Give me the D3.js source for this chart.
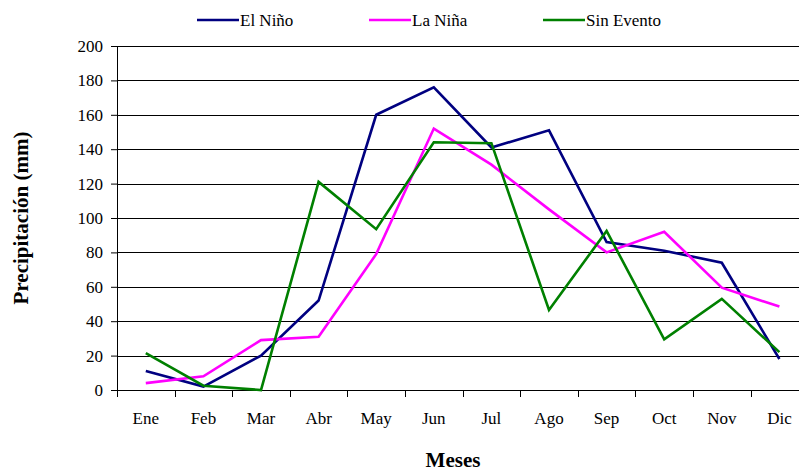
<!DOCTYPE html>
<html>
<head>
<meta charset="utf-8">
<script src="https://cdn.jsdelivr.net/npm/d3@7"></script>
<style>
body { margin: 0; background: #fff; }
</style>
</head>
<body>
<div id="chart"></div>
<script>
var months = ["Ene", "Feb", "Mar", "Abr", "May", "Jun", "Jul", "Ago", "Sep", "Oct", "Nov", "Dic"];
var seriesNames = ["El Niño", "La Niña", "Sin Evento"];
var elNino = [11, 2, 20, 52, 160, 176, 141, 151, 86, 81, 74, 18];
var laNina = [4, 8, 29, 31, 79, 152, 131, 105, 80, 92, 59.5, 48.5];
var sinEvento = [21.5, 2.5, 0, 121, 93.5, 144, 143.5, 46.5, 92.5, 29.5, 53, 22];
var yTicks = [0, 20, 40, 60, 80, 100, 120, 140, 160, 180, 200];

var width = 799,
	height = 471;

var serif = '"Liberation Serif", "Times New Roman", serif';
var colors = ["#000080", "#ff00ff", "#008000"]; //navy, magenta, green

var plotLeft = 117, plotTop = 46, plotBottom = 390;
var step = 57.6; //one month band

var xScale = d3.scaleBand()
	.domain(months)
	.range([plotLeft, plotLeft + step * months.length]);

var yScale = d3.scaleLinear()
	.domain([0, 200])
	.range([plotBottom, plotTop]);

var svg = d3.select("#chart").append("svg")
	.attr("width", width)
	.attr("height", height)
	.attr("font-family", serif);

//horizontal grid lines
svg.append("g").selectAll("line").data(yTicks.slice(1))
	.enter().append("line")
		.attr("x1", plotLeft)
		.attr("x2", width)
		.attr("y1", function(d){ return Math.round(yScale(d)) + 0.5; })
		.attr("y2", function(d){ return Math.round(yScale(d)) + 0.5; })
		.attr("stroke", "#000")
		.attr("stroke-width", 1);

//y axis
var yAxis = svg.append("g")
	.attr("transform", "translate(" + plotLeft + ",0)")
	.call(d3.axisLeft(yScale).tickValues(yTicks).tickSize(6).tickPadding(8));
yAxis.attr("font-family", serif).attr("font-size", 17);
yAxis.select(".domain").attr("stroke", "#000");

//x axis, ticks between the months
var xAxis = svg.append("g")
	.attr("transform", "translate(0," + plotBottom + ")")
	.call(d3.axisBottom(xScale).tickSize(0).tickPadding(22));
xAxis.attr("font-family", serif).attr("font-size", 17);
xAxis.select(".domain").remove();

svg.append("line")
	.attr("x1", plotLeft).attr("x2", width)
	.attr("y1", plotBottom + 0.5).attr("y2", plotBottom + 0.5)
	.attr("stroke", "#000");

svg.append("g").selectAll("line").data(months)
	.enter().append("line")
		.attr("x1", function(d){ return Math.round(xScale(d)) + 0.5; })
		.attr("x2", function(d){ return Math.round(xScale(d)) + 0.5; })
		.attr("y1", plotBottom)
		.attr("y2", plotBottom + 7)
		.attr("stroke", "#000");

//the three lines
var line = d3.line()
	.x(function(d, i){ return xScale(months[i]) + xScale.bandwidth() / 2; })
	.y(function(d){ return yScale(d); });

var allSeries = [elNino, laNina, sinEvento];

svg.append("g").selectAll("path").data(allSeries)
	.enter().append("path")
		.attr("d", line)
		.attr("fill", "none")
		.attr("stroke", function(d, i){ return colors[i]; })
		.attr("stroke-width", 2.6)
		.attr("stroke-linejoin", "miter");

//legend
var legendX = [197, 369, 543];
var legend = svg.append("g").selectAll("g").data(seriesNames)
	.enter().append("g")
		.attr("transform", function(d, i){ return "translate(" + legendX[i] + ",20)"; });

legend.append("line")
	.attr("x1", 0).attr("x2", 42)
	.attr("y1", 0).attr("y2", 0)
	.attr("stroke", function(d, i){ return colors[i]; })
	.attr("stroke-width", 2.6);

legend.append("text")
	.attr("x", 43)
	.attr("y", 6)
	.attr("font-size", 17)
	.text(function(d){ return d; });

//axis titles
svg.append("text")
	.attr("text-anchor", "middle")
	.attr("transform", "translate(28,218) rotate(-90)")
	.attr("font-size", 21)
	.attr("font-weight", "bold")
	.text("Precipitación (mm)");

svg.append("text")
	.attr("text-anchor", "middle")
	.attr("x", 453)
	.attr("y", 467)
	.attr("font-size", 21)
	.attr("font-weight", "bold")
	.text("Meses");
</script>
</body>
</html>
